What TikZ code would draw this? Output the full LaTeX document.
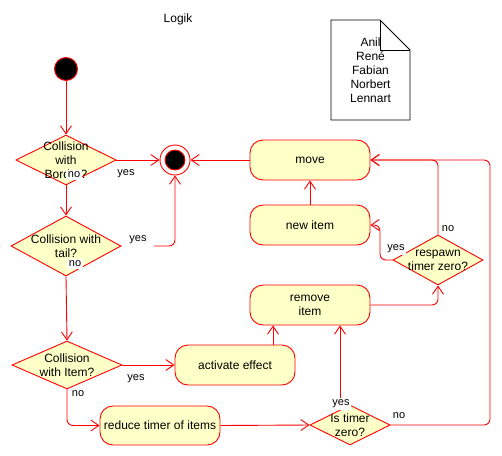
\documentclass[tikz,border=0pt]{standalone}
\usepackage{fontspec}
\setmainfont{Liberation Sans}
\usetikzlibrary{shapes.geometric,arrows.meta}
\definecolor{yfill}{RGB}{255,255,200}
\begin{document}
\begin{tikzpicture}[x=1pt,y=-1pt,
  conn/.style={draw=red, line width=0.9pt, -{Straight Barb[length=8pt,width=11pt]}, rounded corners=6pt},
  act/.style={draw=red, fill=yfill, line width=0.9pt, rounded corners=13pt, minimum width=120pt, minimum height=40pt, align=center, font=\fontsize{12}{14}\selectfont, inner sep=0pt},
  dec/.style={diamond, draw=red, fill=yfill, line width=0.9pt, inner sep=0pt},
  dtext/.style={align=center, font=\fontsize{12}{14}\selectfont},
  lab/.style={fill=white, inner sep=1.5pt, font=\fontsize{11}{13}\selectfont},
]
\useasboundingbox (0,0) rectangle (502,455);

% title and note
\node[font=\fontsize{12}{14}\selectfont] (title) at (178,19) {Logik};
\draw[black, line width=0.8pt, fill=white] (331,20) -- (380,20) -- (410,50) -- (410,120) -- (331,120) -- cycle;
\draw[black, line width=0.8pt] (380,20) -- (380,50) -- (410,50);
\node[dtext] (note) at (370.5,70) {Anil\\René\\Fabian\\Norbert\\Lennart};

% start / end
\node[circle, draw=red, fill=black, minimum size=23pt, inner sep=0pt, line width=0.9pt] (start) at (66,69) {};
\node[circle, draw=red, fill=white, minimum size=30pt, inner sep=0pt, line width=0.9pt] (endc) at (175,160) {};
\node[circle, draw=red, fill=black, minimum size=20pt, inner sep=0pt, line width=0.9pt] (endin) at (175,160) {};

% decisions
\node[dec, minimum width=100pt, minimum height=50pt, label={[dtext]center:{Collision\\with\\Border?}}] (d1) at (66,160) {};
\node[dec, minimum width=110pt, minimum height=60pt, label={[dtext]center:{Collision with\\tail?}}] (d2) at (66,246) {};
\node[dec, minimum width=110pt, minimum height=48pt, label={[dtext]center:{Collision\\with Item?}}] (d3) at (67,365) {};
\node[dec, minimum width=80pt, minimum height=40pt, label={[dtext]center:{Is timer\\zero?}}] (ist) at (350,425) {};
\node[dec, minimum width=90pt, minimum height=50pt, label={[dtext]center:{respawn\\timer zero?}}] (resp) at (438,260) {};

% actions
\node[act] (mv) at (310,160) {move};
\node[act] (new) at (310,225) {new item};
\node[act] (rem) at (310,305) {remove\\item};
\node[act] (act) at (235,365) {activate effect};
\node[act, minimum height=39pt] (red) at (160,425.5) {reduce timer of items};

% helper coordinates
\coordinate (xa) at (273,0);
\coordinate (istyes) at (340,410);
\coordinate (rr) at (490,0);
\coordinate (xc) at (380,0);

% connectors
\draw[conn] (start) -- (d1.north);
\draw[conn] (d1.east) -- (endc.west);
\draw[conn] (d1.south) -- (d2.north);
\draw[conn] (d2.east) -- (d2.east -| endc) -- (endc.south);
\draw[conn] (d2.south) -- (d3.north);
\draw[conn] (d3.east) -- (act.west);
\draw[conn] (d3.south) -- (d3.south |- red.west) -- (red.west);
\draw[conn] (red.east) -- (ist.west);
\draw[conn] (xa |- act.north) -- (xa |- rem.south);
\draw[conn] (istyes) -- (istyes |- rem.south);
\draw[conn] (ist.east) -- (ist.east -| rr) -- (rr |- mv.east) -- (mv.east);
\draw[conn] (rem.east) -- (rem.east -| resp.south) -- (resp.south);
\draw[conn] (resp.west) -- (resp.west -| xc) -- (xc |- new.east) -- (new.east);
\draw[conn] (resp.north) -- (resp.north |- mv.east) -- (mv.east);
\draw[conn] (new.north) -- (mv.south);
\draw[conn] (mv.west) -- (endc.east);

% labels
\node[lab] (l1) at (126,174) {yes};
\node[lab] (l2) at (74,175) {no};
\node[lab, inner xsep=7.5pt, inner ysep=4pt] (l3) at (138,240) {yes};
\node[lab] (l4) at (75,264) {no};
\node[lab] (l5) at (136,379) {yes};
\node[lab] (l6) at (78,394) {no};
\node[lab] (l7) at (341,404) {yes};
\node[lab] (l8) at (399,416) {no};
\node[lab] (l9) at (396,249) {yes};
\node[lab] (l10) at (448,229) {no};
\end{tikzpicture}
\end{document}
